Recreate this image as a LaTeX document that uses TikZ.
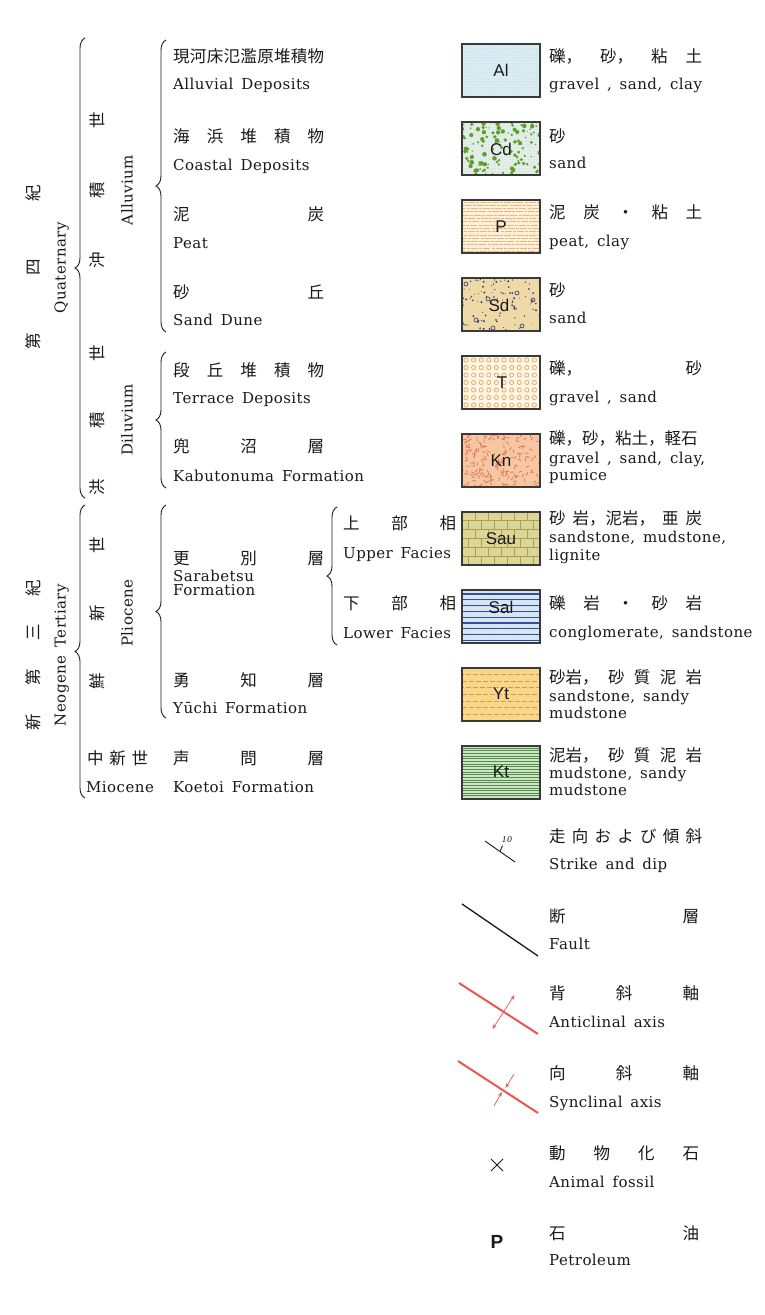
\documentclass[tikz,border=0pt]{standalone}
\usepackage{fontspec}
\setmainfont{DejaVu Serif}[LetterSpace=3,WordSpace=1.5]
\newfontfamily\jp{Noto Sans CJK JP}
\newfontfamily\swf{Liberation Sans}
\usetikzlibrary{decorations.pathreplacing,patterns,arrows.meta}

\definecolor{ink}{HTML}{1A1A1A}
\definecolor{boxc}{HTML}{3A3A3A}
\definecolor{alfill}{HTML}{DCEDF3}
\definecolor{aldot}{HTML}{A8C8D8}
\definecolor{cdfill}{HTML}{E4EFE6}
\definecolor{cdgreen}{HTML}{5F9E2E}
\definecolor{pfill}{HTML}{FCEFDC}
\definecolor{pline}{HTML}{E9B77A}
\definecolor{sdfill}{HTML}{EFD9A6}
\definecolor{sddot}{HTML}{3C4A78}
\definecolor{tfill}{HTML}{FFF6E8}
\definecolor{tcirc}{HTML}{E7AD68}
\definecolor{knfill}{HTML}{F6C7A0}
\definecolor{kndash}{HTML}{E0705C}
\definecolor{saufill}{HTML}{DDD598}
\definecolor{sauline}{HTML}{A99F4E}
\definecolor{salfill}{HTML}{DBE8F4}
\definecolor{salline}{HTML}{2F4F9C}
\definecolor{ytfill}{HTML}{F8D68C}
\definecolor{ytline}{HTML}{DC9A38}
\definecolor{ktfill}{HTML}{CFE5C6}
\definecolor{ktline}{HTML}{4F8E4F}
\definecolor{axisred}{HTML}{EA5650}

\newcommand\evenspread[2]{\makebox[#1][s]{\evsA#2\relax}}
\def\evsA#1{#1\evsB}
\def\evsB#1{\ifx\relax#1\else\hfill#1\expandafter\evsB\fi}

\tikzset{
  lat/.style={inner sep=0pt, anchor=west, text=ink, font=\fontsize{15pt}{17pt}\selectfont, text height=11pt, text depth=0pt},
  jpt/.style={inner sep=0pt, anchor=west, text=ink, font=\jp\fontsize{16.5pt}{18pt}\selectfont, text height=12.6pt, text depth=0pt},
  latv/.style={lat, anchor=center, rotate=90},
  jpv/.style={jpt, anchor=center, rotate=90},
  brc/.style={decorate, decoration={brace, amplitude=10pt}, draw=ink, line width=0.9pt},
  swbox/.style={draw=boxc, line width=1.1pt},
  swl/.style={inner sep=0pt, text=ink, font=\swf\fontsize{17pt}{17pt}\selectfont},
  symline/.style={draw=ink, line width=0.9pt},
  redaxis/.style={draw=axisred, line width=2pt},
  redthin/.style={draw=axisred, line width=0.7pt},
}

\begin{document}
\begin{tikzpicture}[x=1pt,y=-1pt]
\useasboundingbox (0,0) rectangle (764,1315);
\fill[white] (0,0) rectangle (764,1315);

% ---------------- Quaternary ----------------
\node[jpv] (qjp) at (33,267) {\evenspread{165pt}{第四紀}};
\node[latv] (qen) at (60,268) {Quaternary};
\draw[brc] (85,498) -- (85,38);
\node[jpv] (aljp) at (97,190) {\evenspread{156pt}{沖積世}};
\node[jpv] (dljp) at (97,420) {\evenspread{150pt}{洪積世}};
\node[latv] (alen) at (127,190) {Alluvium};
\node[latv] (dlen) at (127,420) {Diluvium};
\draw[brc] (166,332) -- (166,40);
\draw[brc] (166,488) -- (166,352);

\node[jpt] (t1j) at (173,56) {\evenspread{151pt}{現河床氾濫原堆積物}};
\node[lat] (t1e) at (173,84) {Alluvial Deposits};
\node[jpt] (t2j) at (173,136) {\evenspread{151pt}{海浜堆積物}};
\node[lat] (t2e) at (173,165) {Coastal Deposits};
\node[jpt] (t3j) at (173,214) {\evenspread{151pt}{泥炭}};
\node[lat] (t3e) at (173,243) {Peat};
\node[jpt] (t4j) at (173,292) {\evenspread{151pt}{砂丘}};
\node[lat] (t4e) at (173,320) {Sand Dune};
\node[jpt] (t5j) at (173,370) {\evenspread{151pt}{段丘堆積物}};
\node[lat] (t5e) at (173,398) {Terrace Deposits};
\node[jpt] (t6j) at (173,446) {\evenspread{151pt}{兜沼層}};
\node[lat] (t6e) at (173,476) {Kabutonuma Formation};

% ---------------- Neogene ----------------
\node[jpv] (njp) at (33,655) {\evenspread{151pt}{新第三紀}};
\node[latv] (nen) at (60,655) {Neogene Tertiary};
\draw[brc] (85,798) -- (85,505);
\node[jpv] (pljp) at (97,613) {\evenspread{153pt}{鮮新世}};
\node[latv] (plen) at (127,613) {Pliocene};
\draw[brc] (166,718) -- (166,505);

\node[jpt] (t7j) at (173,558) {\evenspread{151pt}{更別層}};
\node[lat] (t7e) at (173,576) {Sarabetsu};
\node[lat] (t7f) at (173,590) {Formation};
\draw[brc] (337,645) -- (337,507);
\node[jpt] (t8j) at (343,523) {\evenspread{113pt}{上部相}};
\node[lat] (t8e) at (343,553) {Upper Facies};
\node[jpt] (t9j) at (343,603) {\evenspread{113pt}{下部相}};
\node[lat] (t9e) at (343,633) {Lower Facies};
\node[jpt] (t10j) at (173,680) {\evenspread{151pt}{勇知層}};
\node[lat] (t10e) at (173,708) {Yūchi Formation};
\node[jpt] (mijp) at (87,758) {\evenspread{61pt}{中新世}};
\node[lat] (mien) at (86,787) {Miocene};
\node[jpt] (t11j) at (173,758) {\evenspread{151pt}{声問層}};
\node[lat] (t11e) at (173,787) {Koetoi Formation};

% ---------------- Swatches ----------------
% Al
\begin{scope}
\clip (462,44) rectangle (540,97);
\fill[alfill] (462,44) rectangle (540,97);
\fill[pattern=dots, pattern color=aldot] (462,44) rectangle (540,97);
\end{scope}
\draw[swbox] (462,44) rectangle (540,97);
\node[swl] (swal) at (501,70) {Al};

% Cd
\begin{scope}
\clip (462,122) rectangle (540,175);
\fill[cdfill] (462,122) rectangle (540,175);
\fill[pattern=dots, pattern color=aldot] (462,122) rectangle (540,175);
\pgfmathsetseed{7}
\foreach \i in {1,...,115}{
  \pgfmathsetmacro\rx{462+rnd*78}\pgfmathsetmacro\ry{122+rnd*53}\pgfmathsetmacro\rr{0.6+rnd*1.8}
  \fill[cdgreen] (\rx,\ry) circle[radius=\rr pt];}
\end{scope}
\draw[swbox] (462,122) rectangle (540,175);
\node[swl] (swcd) at (501,149) {Cd};

% P
\begin{scope}
\clip (462,200) rectangle (540,253);
\fill[pfill] (462,200) rectangle (540,253);
\pgfmathsetseed{11}
\foreach \r in {0,...,15}{
  \pgfmathsetmacro\yy{202+\r*3.3}\pgfmathsetmacro\ph{rnd*10}
  \draw[pline, line width=0.9pt, dash pattern=on 7pt off 1.2pt on 3pt off 1pt, dash phase=\ph pt] (462,\yy) -- (540,\yy);}
\end{scope}
\draw[swbox] (462,200) rectangle (540,253);
\node[swl] (swp) at (501,227) {P};

% Sd
\begin{scope}
\clip (462,278) rectangle (540,331);
\fill[sdfill] (462,278) rectangle (540,331);
\pgfmathsetseed{23}
\foreach \i in {1,...,100}{
  \pgfmathsetmacro\rx{462+rnd*78}\pgfmathsetmacro\ry{278+rnd*53}\pgfmathsetmacro\rr{0.4+rnd*0.8}
  \fill[sddot] (\rx,\ry) circle[radius=\rr pt];}
\foreach \p in {(466,284),(488,299),(517,293),(476,320),(493,328),(533,300),(522,326)}
  \draw[sddot, line width=0.7pt] \p circle[radius=2pt];
\end{scope}
\draw[swbox] (462,278) rectangle (540,331);
\node[swl] (swsd) at (499,305) {Sd};

% T
\begin{scope}
\clip (462,356) rectangle (540,409);
\fill[tfill] (462,356) rectangle (540,409);
\foreach \i in {0,...,9}{\foreach \j in {0,...,6}{
  \draw[tcirc, line width=0.8pt] ({466+\i*7.6},{360+\j*7.5}) circle[radius=2.1pt];}}
\end{scope}
\draw[swbox] (462,356) rectangle (540,409);
\node[swl] (swt) at (502,383) {T};

% Kn
\begin{scope}
\clip (462,434) rectangle (540,487);
\fill[knfill] (462,434) rectangle (540,487);
\pgfmathsetseed{31}
\foreach \i in {1,...,190}{
  \pgfmathsetmacro\rx{460+rnd*82}\pgfmathsetmacro\ry{432+rnd*57}\pgfmathsetmacro\ra{rnd*180}
  \draw[kndash, line width=0.75pt] (\rx,\ry) -- ++(\ra:3.6pt);}
\end{scope}
\draw[swbox] (462,434) rectangle (540,487);
\node[swl] (swkn) at (501,461) {Kn};

% Sau
\begin{scope}
\clip (462,512) rectangle (540,565);
\fill[saufill] (462,512) rectangle (540,565);
\foreach \r in {0,...,5}{
  \pgfmathsetmacro\ya{512+\r*8.83}\pgfmathsetmacro\yb{\ya+8.83}\pgfmathsetmacro\xo{mod(\r,2)*6.5}
  \draw[sauline, line width=0.8pt] (462,\yb) -- (540,\yb);
  \foreach \c in {0,...,6}{\pgfmathsetmacro\xx{462+\xo+\c*13}
    \draw[sauline, line width=0.8pt] (\xx,\ya) -- (\xx,\yb);}}
\end{scope}
\draw[swbox] (462,512) rectangle (540,565);
\node[swl] (swsau) at (501,539) {Sau};

% Sal
\begin{scope}
\clip (462,590) rectangle (540,643);
\fill[salfill] (462,590) rectangle (540,643);
\fill[pattern=dots, pattern color=aldot] (462,590) rectangle (540,643);
\foreach \r in {0,...,8}{\pgfmathsetmacro\yy{594+\r*5.8}
  \draw[salline, line width=1.2pt] (462,\yy) -- (540,\yy);}
\end{scope}
\draw[swbox] (462,590) rectangle (540,643);
\node[swl] (swsal) at (501,607) {Sal};

% Yt
\begin{scope}
\clip (462,668) rectangle (540,721);
\fill[ytfill] (462,668) rectangle (540,721);
\foreach \r in {1,...,7}{\pgfmathsetmacro\yy{668+\r*6.6}\pgfmathsetmacro\ph{mod(\r,2)*3.5}
  \draw[ytline, line width=0.9pt, dash pattern=on 5pt off 2pt, dash phase=\ph pt] (462,\yy) -- (540,\yy);}
\end{scope}
\draw[swbox] (462,668) rectangle (540,721);
\node[swl] (swyt) at (501,694) {Yt};

% Kt
\begin{scope}
\clip (462,746) rectangle (540,799);
\fill[ktfill] (462,746) rectangle (540,799);
\foreach \r in {0,...,19}{\pgfmathsetmacro\yy{748+\r*2.65}
  \draw[ktline, line width=0.5pt] (462,\yy) -- (540,\yy);}
\end{scope}
\draw[swbox] (462,746) rectangle (540,799);
\node[swl] (swkt) at (501,772) {Kt};

% ---------------- Swatch texts ----------------
\node[jpt] (r1j) at (549,56) {\makebox[153pt][s]{礫，\hfill 砂，\hfill 粘\hfill 土}};
\node[lat] (r1e) at (549,84) {gravel , sand, clay};
\node[jpt] (r2j) at (549,136) {砂};
\node[lat] (r2e) at (549,163) {sand};
\node[jpt] (r3j) at (549,212) {\evenspread{153pt}{泥炭・粘土}};
\node[lat] (r3e) at (549,241) {peat, clay};
\node[jpt] (r4j) at (549,290) {砂};
\node[lat] (r4e) at (549,318) {sand};
\node[jpt] (r5j) at (549,368) {\makebox[153pt][s]{礫，\hfill 砂}};
\node[lat] (r5e) at (549,397) {gravel , sand};
\node[jpt] (r6j) at (549,438) {礫，砂，粘土，軽石};
\node[lat] (r6e) at (549,458) {gravel , sand, clay,};
\node[lat] (r6f) at (549,475) {pumice};
\node[jpt] (r7j) at (549,518) {\makebox[153pt][s]{砂\hfill 岩，泥岩，\hfill 亜\hfill 炭}};
\node[lat] (r7e) at (549,537) {sandstone, mudstone,};
\node[lat] (r7f) at (549,555) {lignite};
\node[jpt] (r8j) at (549,603) {\evenspread{153pt}{礫岩・砂岩}};
\node[lat] (r8e) at (549,632) {conglomerate, sandstone};
\node[jpt] (r9j) at (549,677) {\makebox[153pt][s]{砂岩，\hfill 砂\hfill 質\hfill 泥\hfill 岩}};
\node[lat] (r9e) at (549,696) {sandstone, sandy};
\node[lat] (r9f) at (549,713) {mudstone};
\node[jpt] (r10j) at (549,755) {\makebox[153pt][s]{泥岩，\hfill 砂\hfill 質\hfill 泥\hfill 岩}};
\node[lat] (r10e) at (549,773) {mudstone, sandy};
\node[lat] (r10f) at (549,790) {mudstone};

% ---------------- Map symbols ----------------
\coordinate (sda) at (485,841);
\coordinate (sdb) at (515,862);
\coordinate (sdm) at (500,851.5);
\coordinate (sdt) at (502.5,845.5);
\draw[symline] (sda) -- (sdb);
\draw[symline] (sdm) -- (sdt);
\node[inner sep=0pt, text=ink, font=\itshape\fontsize{8pt}{8pt}\selectfont] (sdn) at (507,840) {10};
\node[jpt] (s1j) at (549,836) {\evenspread{153pt}{走向および傾斜}};
\node[lat] (s1e) at (549,864) {Strike and dip};

\coordinate (fa) at (462,904);
\coordinate (fb) at (538,956);
\draw[draw=ink, line width=1.3pt] (fa) -- (fb);
\node[jpt] (s2j) at (549,916) {\evenspread{150pt}{断層}};
\node[lat] (s2e) at (549,944) {Fault};

\coordinate (aa) at (459,983);
\coordinate (ab) at (538,1034);
\coordinate (aa1) at (492.5,1029);
\coordinate (aa2) at (514.5,995);
\draw[redaxis] (aa) -- (ab);
\draw[redthin, {Stealth[length=5pt,width=3.5pt]}-{Stealth[length=5pt,width=3.5pt]}] (aa1) -- (aa2);
\node[jpt] (s3j) at (549,993) {\evenspread{150pt}{背斜軸}};
\node[lat] (s3e) at (549,1022) {Anticlinal axis};

\coordinate (ya) at (458,1061);
\coordinate (yb) at (538,1113);
\coordinate (ys1) at (494,1106);
\coordinate (ye1) at (502,1092);
\coordinate (ys2) at (514,1074);
\coordinate (ye2) at (505.5,1088);
\draw[redaxis] (ya) -- (yb);
\draw[redthin, -{Stealth[length=5pt,width=3.5pt]}] (ys1) -- (ye1);
\draw[redthin, -{Stealth[length=5pt,width=3.5pt]}] (ys2) -- (ye2);
\node[jpt] (s4j) at (549,1073) {\evenspread{150pt}{向斜軸}};
\node[lat] (s4e) at (549,1102) {Synclinal axis};

\coordinate (xa) at (491,1159);
\coordinate (xb) at (503,1171);
\coordinate (xc) at (503,1159);
\coordinate (xd) at (491,1171);
\draw[symline] (xa) -- (xb);
\draw[symline] (xc) -- (xd);
\node[jpt] (s5j) at (549,1153) {\evenspread{150pt}{動物化石}};
\node[lat] (s5e) at (549,1182) {Animal fossil};

\node[inner sep=0pt, text=ink, font=\swf\bfseries\fontsize{19pt}{19pt}\selectfont] (pet) at (497,1242) {P};
\node[jpt] (s6j) at (549,1233) {\evenspread{150pt}{石油}};
\node[lat] (s6e) at (549,1260) {Petroleum};
\end{tikzpicture}
\end{document}
